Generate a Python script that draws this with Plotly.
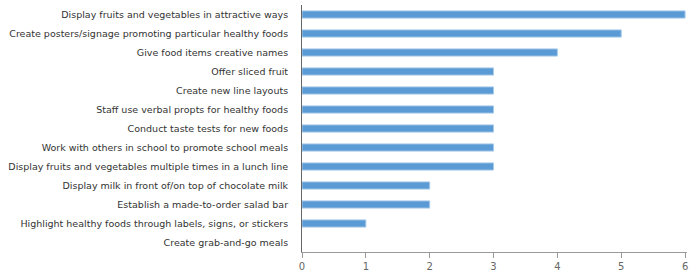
import plotly.graph_objects as go

categories = [
    "Display fruits and vegetables in attractive ways",
    "Create posters/signage promoting particular healthy foods",
    "Give food items creative names",
    "Offer sliced fruit",
    "Create new line layouts",
    "Staff use verbal propts for healthy foods",
    "Conduct taste tests for new foods",
    "Work with others in school to promote school meals",
    "Display fruits and vegetables multiple times in a lunch line",
    "Display milk in front of/on top of chocolate milk",
    "Establish a made-to-order salad bar",
    "Highlight healthy foods through labels, signs, or stickers",
    "Create grab-and-go meals",
]
values = [6, 5, 4, 3, 3, 3, 3, 3, 3, 2, 2, 1, 0]
x_ticks = [0, 1, 2, 3, 4, 5, 6]

fig = go.Figure(go.Bar(
    y=categories, x=values, orientation="h",
    marker=dict(color="#5B9BD5",
                line=dict(color="#A9CBEA", width=[1 if v > 0 else 0 for v in values])),
    width=0.38,
))
fig.update_layout(
    width=698, height=276,
    margin=dict(l=302, r=11, t=5, b=24, autoexpand=False),
    plot_bgcolor="white", paper_bgcolor="white",
    font=dict(family="DejaVu Sans, Verdana, sans-serif", size=9.5, color="#333333"),
    showlegend=False,
)
fig.update_yaxes(
    autorange="reversed", showline=True, linecolor="#666666", linewidth=1,
    ticks="", showgrid=False, ticklabelstandoff=11, automargin=False,
    tickfont=dict(size=9.5, color="#333333"),
)
fig.update_xaxes(
    range=[0, 6.03], tickvals=x_ticks, showline=True, linecolor="#999999", linewidth=1,
    ticks="outside", ticklen=5, tickcolor="#999999", showgrid=False, zeroline=False,
    automargin=False, tickfont=dict(size=10, color="#666666"),
)
fig.write_html("out.html", config={"displayModeBar": False},
               post_script="document.body.style.margin='0';")
